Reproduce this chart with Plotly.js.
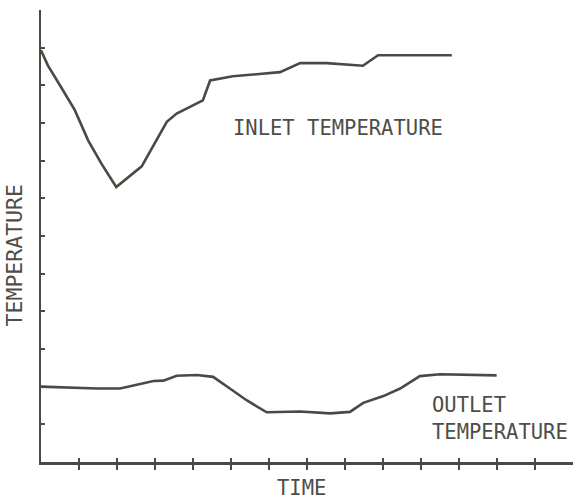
<!DOCTYPE html>
<html>
<head>
<meta charset="utf-8">
<script src="https://cdn.plot.ly/plotly-3.0.1.min.js"></script>
<style>html,body{margin:0;padding:0;background:#fff;}#chart{width:575px;height:500px;}</style>
</head>
<body>
<div id="chart"></div>
<script>
// Inlet temperature curve (time units, temperature units)
var inletTime = [0, 0.18, 0.53, 0.89, 1.24, 1.59, 1.98, 2.55, 2.65, 3.31, 3.57, 4.26, 4.45, 5.05, 6.29, 6.82, 7.52, 8.47, 8.87, 9.26, 10.81];
var inletTemp = [10.93, 10.53, 9.95, 9.34, 8.54, 7.92, 7.30, 7.75, 7.85, 9.03, 9.25, 9.60, 10.13, 10.24, 10.35, 10.59, 10.59, 10.52, 10.80, 10.80, 10.80];

// Outlet temperature curve
var outletTime = [0, 1.47, 2.08, 2.52, 2.96, 3.22, 3.57, 4.10, 4.53, 4.97, 5.41, 5.94, 6.82, 7.61, 8.13, 8.48, 9.01, 9.45, 9.97, 10.5, 11.2, 11.99];
var outletTemp = [2.0, 1.95, 1.95, 2.04, 2.15, 2.16, 2.29, 2.31, 2.26, 1.95, 1.64, 1.32, 1.34, 1.29, 1.33, 1.57, 1.75, 1.95, 2.28, 2.33, 2.31, 2.30];

var xTicks = [1,2,3,4,5,6,7,8,9,10,11,12,13];
var yTicks = [1,2,3,4,5,6,7,8,9,10,11];

var ink = '#4a4a42';
var textInk = '#4e4e47';
var fnt = {family: 'DejaVu Sans Mono', size: 20.5, color: textInk};

var traces = [
  {x: inletTime, y: inletTemp, type: 'scatter', mode: 'lines', line: {color: ink, width: 2.6}, hoverinfo: 'skip'},
  {x: outletTime, y: outletTemp, type: 'scatter', mode: 'lines', line: {color: ink, width: 2.6}, hoverinfo: 'skip'},
  {x: [], y: [], xaxis: 'x2', yaxis: 'y', type: 'scatter', mode: 'lines', hoverinfo: 'skip'}
];

var layout = {
  width: 575, height: 500,
  margin: {l: 41, r: 2, t: 10, b: 38, pad: 0},
  paper_bgcolor: '#ffffff', plot_bgcolor: '#ffffff',
  showlegend: false,
  xaxis: {
    range: [0, 14], showgrid: false, zeroline: false,
    showline: true, linecolor: ink, linewidth: 2.5,
    tickmode: 'array', tickvals: xTicks, ticks: 'outside', ticklen: 5, tickwidth: 2, tickcolor: ink,
    showticklabels: false, fixedrange: true
  },
  xaxis2: {
    overlaying: 'x', range: [0, 14], showgrid: false, zeroline: false, showline: false,
    tickmode: 'array', tickvals: xTicks, ticks: 'inside', ticklen: 4, tickwidth: 2, tickcolor: ink,
    showticklabels: false, side: 'bottom', anchor: 'y', fixedrange: true
  },
  yaxis: {
    range: [0, 12], showgrid: false, zeroline: false,
    showline: true, linecolor: ink, linewidth: 2.5,
    tickmode: 'array', tickvals: yTicks, ticks: 'inside', ticklen: 4, tickwidth: 2, tickcolor: ink,
    showticklabels: false, fixedrange: true
  },
  annotations: [
    {text: 'INLET TEMPERATURE', xref: 'paper', yref: 'paper', x: 0.357, y: 0.739, xanchor: 'left', yanchor: 'middle', showarrow: false, font: fnt},
    {text: 'OUTLET<br>TEMPERATURE', xref: 'paper', yref: 'paper', x: 0.731, y: 0.0965, xanchor: 'left', yanchor: 'middle', align: 'left', showarrow: false, font: fnt},
    {text: 'TIME', xref: 'paper', yref: 'paper', x: 0.4897, y: -0.0575, xanchor: 'center', yanchor: 'middle', showarrow: false, font: fnt},
    {text: 'TEMPERATURE', xref: 'paper', yref: 'paper', x: -0.048, y: 0.458, xanchor: 'center', yanchor: 'middle', textangle: -90, showarrow: false, font: {family: 'DejaVu Sans Mono', size: 21.5, color: textInk}}
  ]
};

Plotly.newPlot('chart', traces, layout, {displayModeBar: false, staticPlot: true});
</script>
</body>
</html>
